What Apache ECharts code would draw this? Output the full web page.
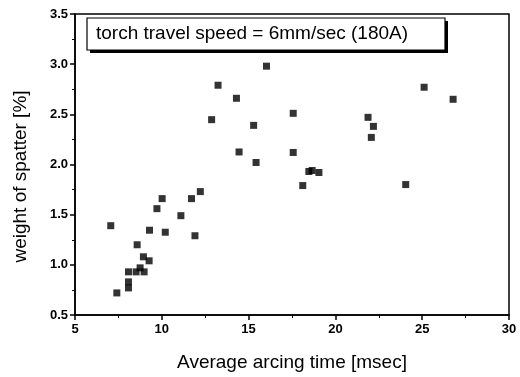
<!DOCTYPE html>
<html>
<head>
<meta charset="utf-8">
<script src="https://cdn.jsdelivr.net/npm/echarts@6/dist/echarts.min.js"></script>
<style>
  html, body { margin: 0; padding: 0; background: #fff; }
  #chart { width: 520px; height: 377px; }
</style>
</head>
<body>
<div id="chart"></div>
<script>
// arcing time [msec] vs weight of spatter [%]
const arcingTime = [
  7.06, 7.41, 8.08, 8.08, 8.08, 8.58, 8.52, 8.75, 8.98, 8.94,
  9.27, 9.29, 9.72, 10.02, 10.20, 11.10, 11.71, 11.91, 12.22,
  12.87, 13.24, 14.30, 14.45, 15.29, 15.43, 16.03,
  17.57, 17.57, 18.12, 18.47, 18.66, 19.05,
  21.88, 22.19, 22.07, 24.05, 25.11, 26.78
];
const spatterWeight = [
  1.39, 0.72, 0.93, 0.83, 0.77, 1.20, 0.93, 0.97, 0.93, 1.08,
  1.04, 1.345, 1.56, 1.66, 1.325, 1.49, 1.66, 1.29, 1.73,
  2.447, 2.79, 2.66, 2.125, 2.39, 2.02, 2.98,
  2.51, 2.12, 1.79, 1.93, 1.94, 1.92,
  2.47, 2.38, 2.27, 1.80, 2.77, 2.65
];
const legendText = 'torch travel speed = 6mm/sec (180A)';

const font = 'Liberation Sans, Arial, sans-serif';
const chart = echarts.init(document.getElementById('chart'), null, { renderer: 'canvas' });

const points = arcingTime.map((t, i) => [t, spatterWeight[i]]);

const option = {
  animation: false,
  backgroundColor: '#fff',
  grid: {
    left: 75, right: 11, top: 14, bottom: 59,
    show: true, borderColor: '#000', borderWidth: 1.5
  },
  xAxis: {
    type: 'value',
    min: 5, max: 30, interval: 5,
    name: 'Average arcing time [msec]',
    nameLocation: 'middle',
    nameGap: 38,
    nameTextStyle: { color: '#000', fontSize: 19, fontFamily: font },
    axisLine: { lineStyle: { color: '#000', width: 1.5 } },
    axisTick: { inside: false, length: 5, lineStyle: { color: '#000', width: 1.5 } },
    minorTick: { show: true, splitNumber: 2, length: 3, lineStyle: { color: '#000' } },
    splitLine: { show: false },
    axisLabel: { color: '#000', fontSize: 13, fontWeight: 'bold', fontFamily: font, margin: 8 }
  },
  yAxis: {
    type: 'value',
    min: 0.5, max: 3.5, interval: 0.5,
    name: 'weight of spatter [%]',
    nameLocation: 'middle',
    nameGap: 45,
    nameTextStyle: { color: '#000', fontSize: 19, fontFamily: font, padding: [0, 24, 0, 0] },
    axisLine: { show: true, lineStyle: { color: '#000', width: 1.5 } },
    axisTick: { show: true, inside: false, length: 5, lineStyle: { color: '#000', width: 1.5 } },
    minorTick: { show: true, splitNumber: 2, length: 3, lineStyle: { color: '#000' } },
    splitLine: { show: false },
    axisLabel: {
      color: '#000', fontSize: 13, fontWeight: 'bold', fontFamily: font, margin: 7,
      formatter: v => v.toFixed(1)
    }
  },
  series: [{
    type: 'scatter',
    data: points,
    symbol: 'rect',
    symbolSize: 7,
    itemStyle: { color: '#000' }
  }],
  graphic: [
    // legend box with drop shadow
    { type: 'rect', shape: { x: 90, y: 21, width: 358, height: 32 },
      style: { fill: '#000' }, z: 10 },
    { type: 'rect', shape: { x: 87, y: 18, width: 358, height: 32 },
      style: { fill: '#fff', stroke: '#000', lineWidth: 1.2 }, z: 11 },
    { type: 'text', x: 96, y: 34, z: 12,
      style: { text: legendText, fill: '#000', font: '19px ' + font, textVerticalAlign: 'middle' } }
  ]
};

chart.setOption(option);
</script>
</body>
</html>
